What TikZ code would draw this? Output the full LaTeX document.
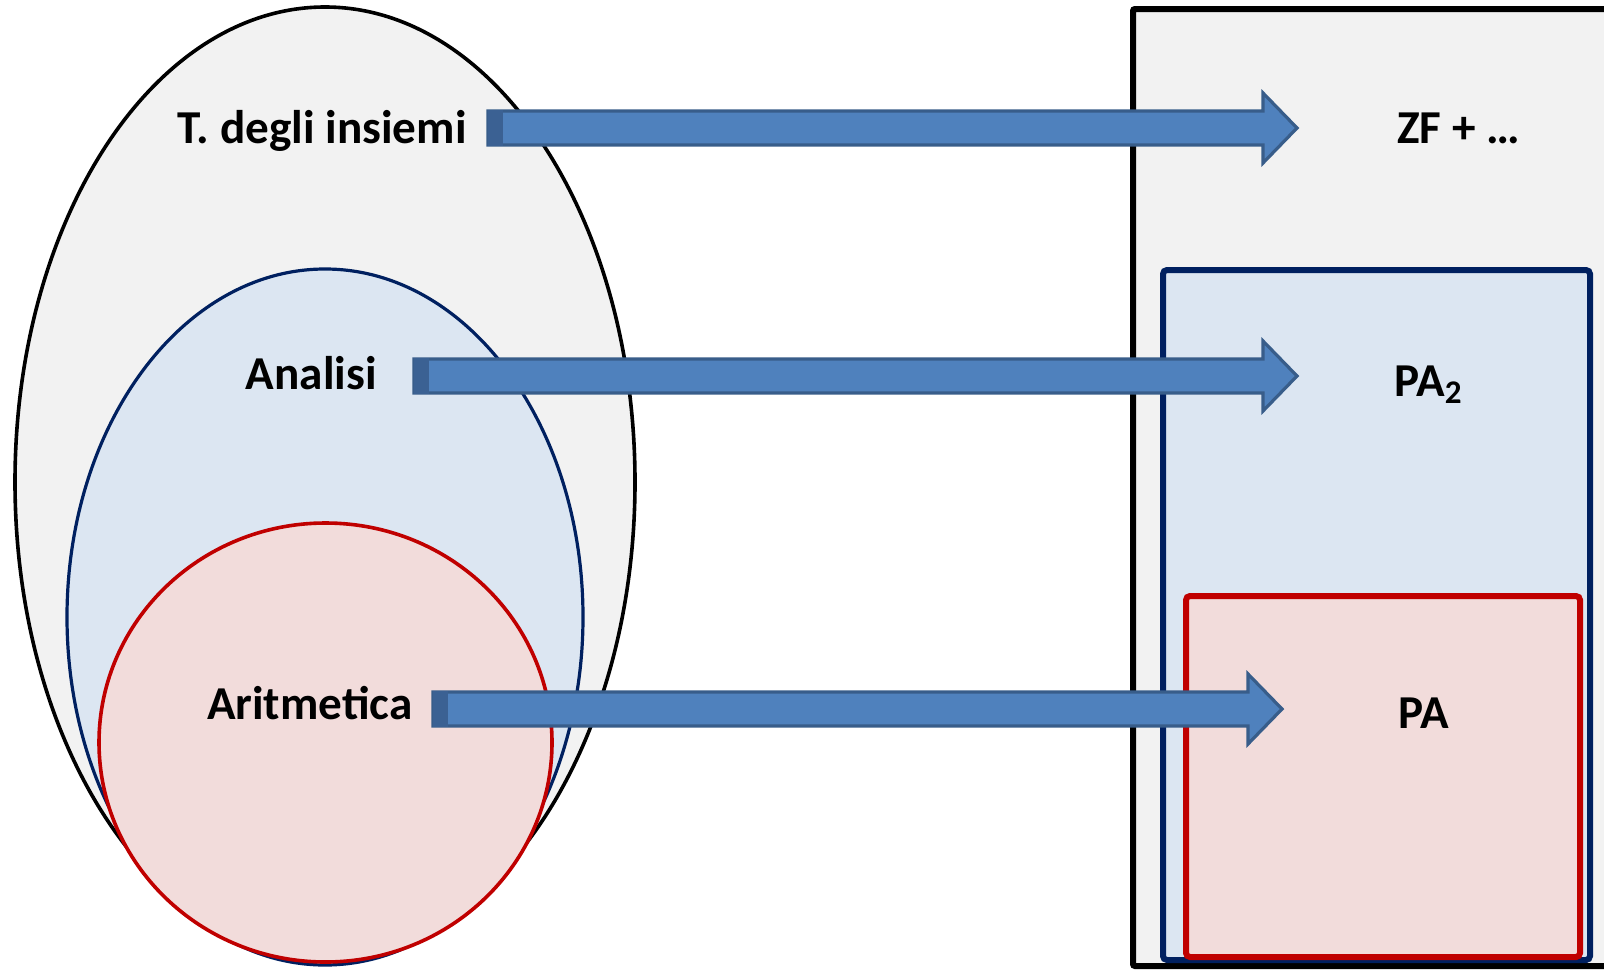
\documentclass[tikz,border=0pt]{standalone}
\usepackage{fontspec}
\setmainfont{Carlito}
\usetikzlibrary{calc}
\definecolor{setgray}{HTML}{F2F2F2}
\definecolor{setblue}{HTML}{DCE6F2}
\definecolor{setnavy}{HTML}{002060}
\definecolor{setpink}{HTML}{F2DCDB}
\definecolor{setred}{HTML}{C00000}
\definecolor{arrfill}{HTML}{4F81BD}
\definecolor{arrline}{HTML}{385D8A}
\definecolor{arrdark}{HTML}{3B6193}
\tikzset{
  lbl/.style = {inner sep=0pt, font=\fontsize{23.6}{28}\selectfont\bfseries},
  theory/.style = {draw=black, fill=setgray, line width=1.8pt},
  analysis/.style = {draw=setnavy, fill=setblue, line width=1.6pt},
  arith/.style = {draw=setred, fill=setpink, line width=1.8pt},
  fatarr/.style = {draw=arrline, fill=arrfill, line width=1.6pt, line join=miter,
    to path={let \p1=(\tikztostart), \p2=(\tikztotarget) in
      (\x1,\y1+8.5pt) -- (\x2-17pt,\y1+8.5pt) -- (\x2-17pt,\y1+17.5pt) -- (\x2,\y1)
      -- (\x2-17pt,\y1-17.5pt) -- (\x2-17pt,\y1-8.5pt) -- (\x1,\y1-8.5pt) -- cycle}},
  arrbase/.style = {fill=arrdark}
}

\begin{document}
\begin{tikzpicture}[x=0.5pt, y=-0.5pt]

\clip (0,0) rectangle (1604,969);
\fill[white] (0,0) rectangle (1604,969);

% Left: nested sets
\draw[theory]   (325,482) ellipse [x radius=310, y radius=475];
\draw[analysis] (325,617) ellipse [x radius=258, y radius=348];
\draw[arith]    (325.5,742.5) ellipse [x radius=226.5, y radius=219.5];

% Right: nested boxes
\draw[theory, line width=3pt, rounded corners=1pt]   (1133,9) rectangle (1660,966);
\draw[analysis, line width=3pt, rounded corners=2pt] (1163,270) rectangle (1590,960);
\draw[arith, line width=3pt, rounded corners=2pt]    (1186,596) rectangle (1580,957);

% Labels
\node[lbl, anchor=base east] (tset) at (467,143) {T. degli insiemi};
\node[lbl, anchor=base east] (tan)  at (377,389) {Analisi};
\node[lbl, anchor=base east] (tar)  at (413,719) {Aritmetica};

\node[lbl, anchor=base west] (zf)  at (1397,143) {ZF + …};
\node[lbl, anchor=base west] (pa2) at (1394,396) {PA\textsubscript{2}};
\node[lbl, anchor=base west] (pa)  at (1398,728) {PA};

% Arrow ends
\coordinate (s1) at (488,128);
\coordinate (e1) at (1297,128);
\coordinate (s2) at (414,376);
\coordinate (e2) at (1297,376);
\coordinate (s3) at (433,709);
\coordinate (e3) at (1282,709);

% Arrows
\draw[fatarr] (s1) to (e1);
\fill[arrbase] ($(s1)+(0,-18)$) rectangle ++(15,36);

\draw[fatarr] (s2) to (e2);
\fill[arrbase] ($(s2)+(0,-18)$) rectangle ++(15,36);

\draw[fatarr] (s3) to (e3);
\fill[arrbase] ($(s3)+(0,-18)$) rectangle ++(15,36);

\end{tikzpicture}
\end{document}
